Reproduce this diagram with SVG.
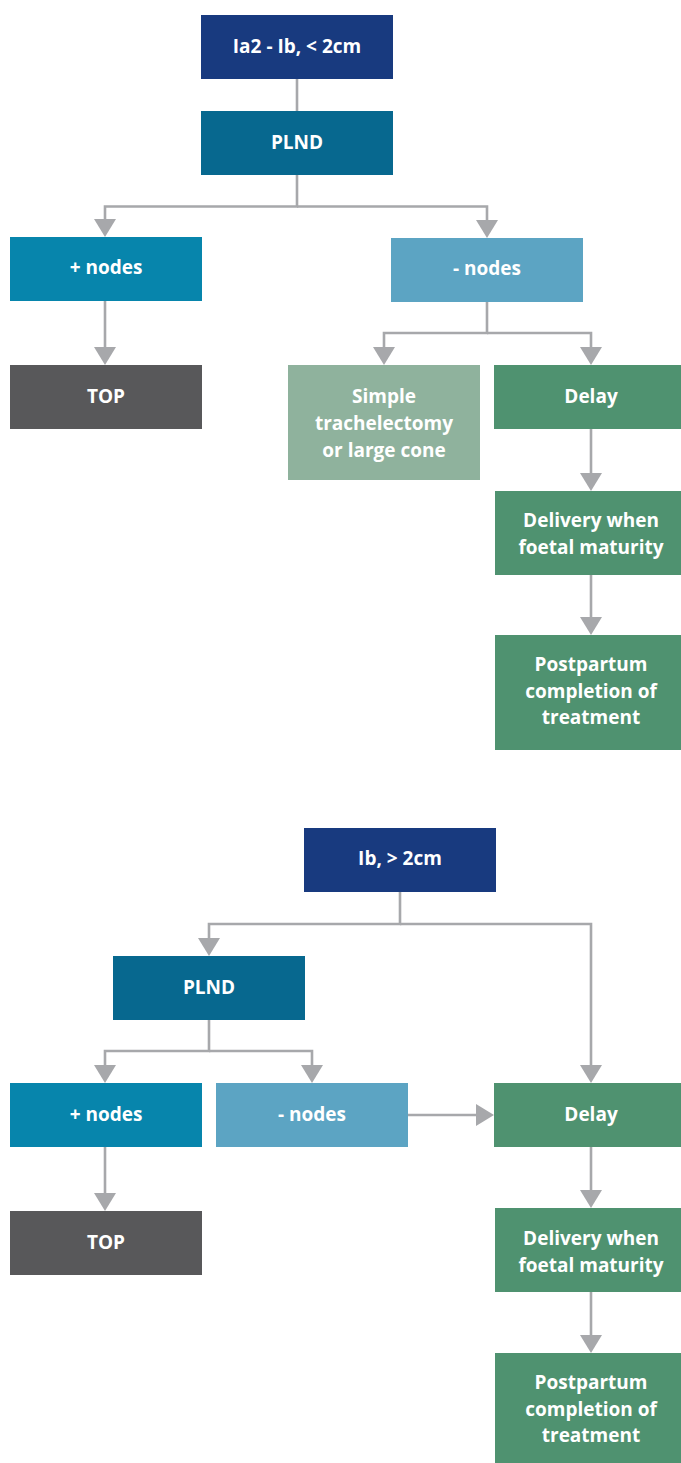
<svg xmlns="http://www.w3.org/2000/svg" width="681" height="1463" viewBox="0 0 681 1463">
<style>
  .t { font-family: "Open Sans", "Liberation Sans", sans-serif; font-weight: 700; font-size: 19px; fill: #ffffff; text-anchor: middle; }
  .c { fill: none; stroke: #A7A8AB; stroke-width: 2.6; }
  .navy { fill: #183A7F; }
  .plnd { fill: #07688F; }
  .pos { fill: #0785AC; }
  .neg { fill: #5CA4C3; }
  .top { fill: #58585A; }
  .simple { fill: #8FB29D; }
  .green { fill: #4F9270; }
</style>
<defs>
  <marker id="ah" viewBox="0 0 18 22" refX="0" refY="11" markerWidth="18" markerHeight="22" markerUnits="userSpaceOnUse" orient="auto">
    <path d="M0,0 L18,11 L0,22 Z" fill="#A7A8AB"/>
  </marker>
</defs>
<rect width="681" height="1463" fill="#ffffff"/>

<g id="connectors">
  <!-- top section -->
  <path class="c" d="M297,78 V111"/>
  <path class="c" d="M297,174 V206.5 H105 V219" marker-end="url(#ah)"/>
  <path class="c" d="M297,206.5 H487 V220" marker-end="url(#ah)"/>
  <path class="c" d="M105,300 V347" marker-end="url(#ah)"/>
  <path class="c" d="M487,301 V333 H384 V347" marker-end="url(#ah)"/>
  <path class="c" d="M487,333 H591 V347" marker-end="url(#ah)"/>
  <path class="c" d="M591,429 V473" marker-end="url(#ah)"/>
  <path class="c" d="M591,575 V617" marker-end="url(#ah)"/>
  <!-- bottom section -->
  <path class="c" d="M400,892 V924 H209 V938" marker-end="url(#ah)"/>
  <path class="c" d="M400,924 H591 V1065" marker-end="url(#ah)"/>
  <path class="c" d="M209,1020 V1051 H105 V1065" marker-end="url(#ah)"/>
  <path class="c" d="M209,1051 H312 V1065" marker-end="url(#ah)"/>
  <path class="c" d="M408,1115 H476" marker-end="url(#ah)"/>
  <path class="c" d="M105,1147 V1193" marker-end="url(#ah)"/>
  <path class="c" d="M591,1147 V1190" marker-end="url(#ah)"/>
  <path class="c" d="M591,1292 V1335" marker-end="url(#ah)"/>
</g>

<g id="n1-start">
  <rect class="navy" x="201" y="15" width="192" height="64"/>
  <text class="t" x="297" y="52.5">Ia2 - Ib, &lt; 2cm</text>
</g>
<g id="n1-plnd">
  <rect class="plnd" x="201" y="111" width="192" height="64"/>
  <text class="t" x="297" y="148.5">PLND</text>
</g>
<g id="n1-posnodes">
  <rect class="pos" x="10" y="237" width="192" height="64"/>
  <text class="t" x="106" y="274">+ nodes</text>
</g>
<g id="n1-negnodes">
  <rect class="neg" x="391" y="238" width="192" height="64"/>
  <text class="t" x="487" y="275">- nodes</text>
</g>
<g id="n1-top">
  <rect class="top" x="10" y="365" width="192" height="64"/>
  <text class="t" x="106" y="402.5">TOP</text>
</g>
<g id="n1-simple">
  <rect class="simple" x="288" y="365" width="192" height="115"/>
  <text class="t" x="384" y="403">Simple</text>
  <text class="t" x="384" y="430">trachelectomy</text>
  <text class="t" x="384" y="457">or large cone</text>
</g>
<g id="n1-delay">
  <rect class="green" x="494" y="365" width="193" height="64"/>
  <text class="t" x="591" y="403">Delay</text>
</g>
<g id="n1-delivery">
  <rect class="green" x="495" y="491" width="192" height="84"/>
  <text class="t" x="591" y="527">Delivery when</text>
  <text class="t" x="591" y="553.5">foetal maturity</text>
</g>
<g id="n1-postpartum">
  <rect class="green" x="495" y="635" width="192" height="115"/>
  <text class="t" x="591" y="671">Postpartum</text>
  <text class="t" x="591" y="697.5">completion of</text>
  <text class="t" x="591" y="724">treatment</text>
</g>

<g id="n2-start">
  <rect class="navy" x="304" y="828" width="192" height="64"/>
  <text class="t" x="400" y="865">Ib, &gt; 2cm</text>
</g>
<g id="n2-plnd">
  <rect class="plnd" x="113" y="956" width="192" height="64"/>
  <text class="t" x="209" y="993.5">PLND</text>
</g>
<g id="n2-posnodes">
  <rect class="pos" x="10" y="1083" width="192" height="64"/>
  <text class="t" x="106" y="1120.5">+ nodes</text>
</g>
<g id="n2-negnodes">
  <rect class="neg" x="216" y="1083" width="192" height="64"/>
  <text class="t" x="312" y="1120.5">- nodes</text>
</g>
<g id="n2-top">
  <rect class="top" x="10" y="1211" width="192" height="64"/>
  <text class="t" x="106" y="1248.5">TOP</text>
</g>
<g id="n2-delay">
  <rect class="green" x="494" y="1083" width="193" height="64"/>
  <text class="t" x="591" y="1120.5">Delay</text>
</g>
<g id="n2-delivery">
  <rect class="green" x="495" y="1208" width="192" height="84"/>
  <text class="t" x="591" y="1245">Delivery when</text>
  <text class="t" x="591" y="1271.5">foetal maturity</text>
</g>
<g id="n2-postpartum">
  <rect class="green" x="495" y="1353" width="192" height="115"/>
  <text class="t" x="591" y="1389">Postpartum</text>
  <text class="t" x="591" y="1415.5">completion of</text>
  <text class="t" x="591" y="1442">treatment</text>
</g>
</svg>
